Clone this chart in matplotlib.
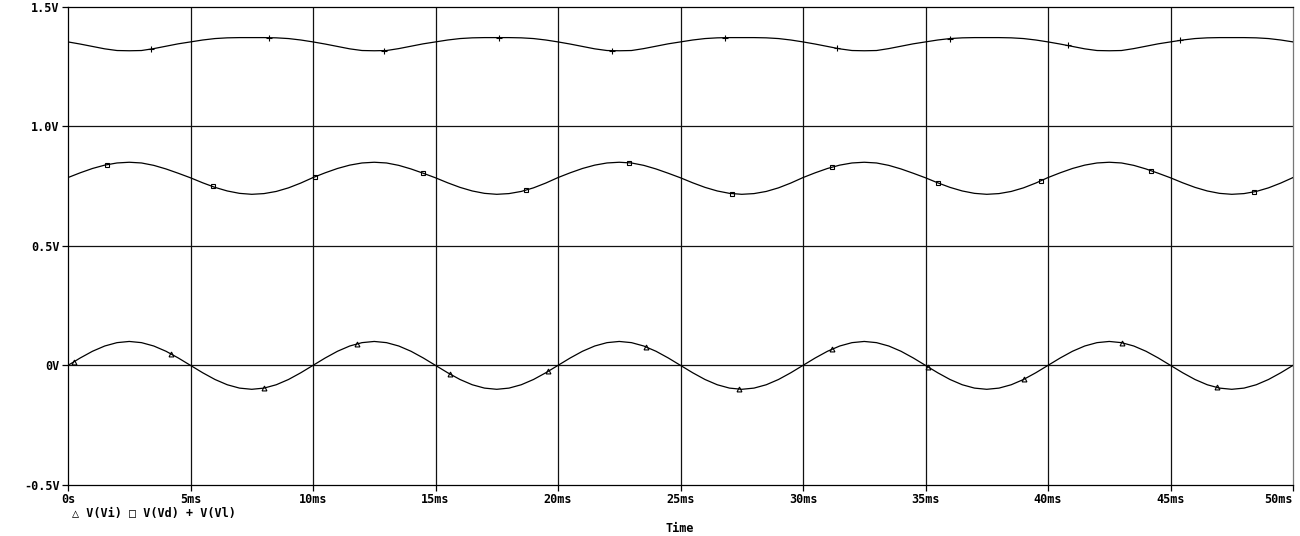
import numpy as np
import matplotlib
matplotlib.use("Agg")
import matplotlib.pyplot as plt

# ── Data (time in ms, values in V, 0.5 ms steps) ────────────────────────────
t_ms = np.linspace(0, 50, 101)

v_vi = [
    0.000, 0.031, 0.059, 0.081, 0.095, 0.100, 0.095, 0.081, 0.059, 0.031,
    0.000, -0.031, -0.059, -0.081, -0.095, -0.100, -0.095, -0.081, -0.059, -0.031,
    0.000, 0.031, 0.059, 0.081, 0.095, 0.100, 0.095, 0.081, 0.059, 0.031,
    0.000, -0.031, -0.059, -0.081, -0.095, -0.100, -0.095, -0.081, -0.059, -0.031,
    0.000, 0.031, 0.059, 0.081, 0.095, 0.100, 0.095, 0.081, 0.059, 0.031,
    0.000, -0.031, -0.059, -0.081, -0.095, -0.100, -0.095, -0.081, -0.059, -0.031,
    0.000, 0.031, 0.059, 0.081, 0.095, 0.100, 0.095, 0.081, 0.059, 0.031,
    0.000, -0.031, -0.059, -0.081, -0.095, -0.100, -0.095, -0.081, -0.059, -0.031,
    0.000, 0.031, 0.059, 0.081, 0.095, 0.100, 0.095, 0.081, 0.059, 0.031,
    0.000, -0.031, -0.059, -0.081, -0.095, -0.100, -0.095, -0.081, -0.059, -0.031,
    0.000,
]

v_vd = [
    0.785, 0.805, 0.823, 0.837, 0.846, 0.849, 0.846, 0.836, 0.821, 0.803,
    0.784, 0.763, 0.744, 0.729, 0.719, 0.715, 0.718, 0.727, 0.742, 0.762,
    0.785, 0.805, 0.823, 0.837, 0.846, 0.849, 0.846, 0.836, 0.821, 0.803,
    0.784, 0.763, 0.744, 0.729, 0.719, 0.715, 0.718, 0.727, 0.742, 0.762,
    0.785, 0.805, 0.823, 0.837, 0.846, 0.849, 0.846, 0.836, 0.821, 0.803,
    0.784, 0.763, 0.744, 0.729, 0.719, 0.715, 0.718, 0.727, 0.742, 0.762,
    0.785, 0.805, 0.823, 0.837, 0.846, 0.849, 0.846, 0.836, 0.821, 0.803,
    0.784, 0.763, 0.744, 0.729, 0.719, 0.715, 0.718, 0.727, 0.742, 0.762,
    0.785, 0.805, 0.823, 0.837, 0.846, 0.849, 0.846, 0.836, 0.821, 0.803,
    0.784, 0.763, 0.744, 0.729, 0.719, 0.715, 0.718, 0.727, 0.742, 0.762,
    0.785,
]

v_vl = [
    1.352, 1.343, 1.333, 1.323, 1.316, 1.315, 1.316, 1.324, 1.334, 1.344,
    1.352, 1.360, 1.366, 1.369, 1.370, 1.370, 1.370, 1.369, 1.366, 1.360,
    1.352, 1.343, 1.333, 1.323, 1.316, 1.315, 1.316, 1.324, 1.334, 1.344,
    1.352, 1.360, 1.366, 1.369, 1.370, 1.370, 1.370, 1.369, 1.366, 1.360,
    1.352, 1.343, 1.333, 1.323, 1.316, 1.315, 1.316, 1.324, 1.334, 1.344,
    1.352, 1.360, 1.366, 1.369, 1.370, 1.370, 1.370, 1.369, 1.366, 1.360,
    1.352, 1.343, 1.333, 1.323, 1.316, 1.315, 1.316, 1.324, 1.334, 1.344,
    1.352, 1.360, 1.366, 1.369, 1.370, 1.370, 1.370, 1.369, 1.366, 1.360,
    1.352, 1.343, 1.333, 1.323, 1.316, 1.315, 1.316, 1.324, 1.334, 1.344,
    1.352, 1.360, 1.366, 1.369, 1.370, 1.370, 1.370, 1.369, 1.366, 1.360,
    1.352,
]

# marker times (ms) where the probe symbols sit on each trace
mk_vi = [0.25, 4.2, 8.0, 11.8, 15.6, 19.6, 23.6, 27.4, 31.2, 35.1, 39.0, 43.0, 46.9]
mk_vd = [1.6, 5.9, 10.1, 14.5, 18.7, 22.9, 27.1, 31.2, 35.5, 39.7, 44.2, 48.4]
mk_vl = [3.4, 8.2, 12.9, 17.6, 22.2, 26.8, 31.4, 36.0, 40.8, 45.4]

x_ticks = [0, 5, 10, 15, 20, 25, 30, 35, 40, 45, 50]
x_labels = ["0s", "5ms", "10ms", "15ms", "20ms", "25ms", "30ms", "35ms", "40ms", "45ms", "50ms"]
y_ticks = [-0.5, 0.0, 0.5, 1.0, 1.5]
y_labels = ["-0.5V", "0V", "0.5V", "1.0V", "1.5V"]

MONO = ["DejaVu Sans Mono", "DejaVu Sans"]
FS = 8.5

fig = plt.figure(figsize=(13, 5.36), dpi=100)
fig.patch.set_facecolor("white")
ax = fig.add_axes([68 / 1300, 51 / 536, 1225 / 1300, 478.5 / 536])

# plain black grid, PSpice style
for xs in x_ticks[1:-1]:
    ax.axvline(xs, color="#111111", lw=0.9, zorder=1)
for ys in y_ticks[1:-1]:
    ax.axhline(ys, color="#111111", lw=0.9, zorder=1)

for vals, mks, marker, ms in [
    (v_vi, mk_vi, "^", 3.5),
    (v_vd, mk_vd, "s", 3.2),
    (v_vl, mk_vl, "+", 5),
]:
    ax.plot(t_ms, vals, color="black", lw=0.9, zorder=3)
    ax.plot(mks, np.interp(mks, t_ms, vals), ls="none", marker=marker,
            ms=ms, mfc="none", mec="black", mew=0.8, zorder=4)

ax.set_xlim(0, 50)
ax.set_ylim(-0.5, 1.5)
ax.set_xticks(x_ticks)
ax.set_xticklabels(x_labels)
ax.set_yticks(y_ticks)
ax.set_yticklabels(y_labels)
ax.tick_params(direction="out", length=4, width=0.9, pad=2, colors="black")
for lab in ax.get_xticklabels() + ax.get_yticklabels():
    lab.set_fontfamily(MONO)
    lab.set_fontsize(FS)
    lab.set_fontweight("bold")
ax.get_xticklabels()[-1].set_horizontalalignment("right")

for side in ["left", "bottom", "top"]:
    ax.spines[side].set_color("black")
    ax.spines[side].set_linewidth(0.9)
ax.spines["right"].set_color("#777777")
ax.spines["right"].set_linewidth(0.9)

fig.text(72 / 1300, (536 - 514) / 536, "\u25b3 V(Vi) \u25a1 V(Vd) + V(Vl)",
         family=MONO, fontsize=FS, fontweight="bold", va="center", ha="left")
fig.text(680 / 1300, (536 - 528) / 536, "Time",
         family=MONO, fontsize=FS, fontweight="bold", va="center", ha="center")

fig.savefig("out.png", dpi=100, facecolor="white")
